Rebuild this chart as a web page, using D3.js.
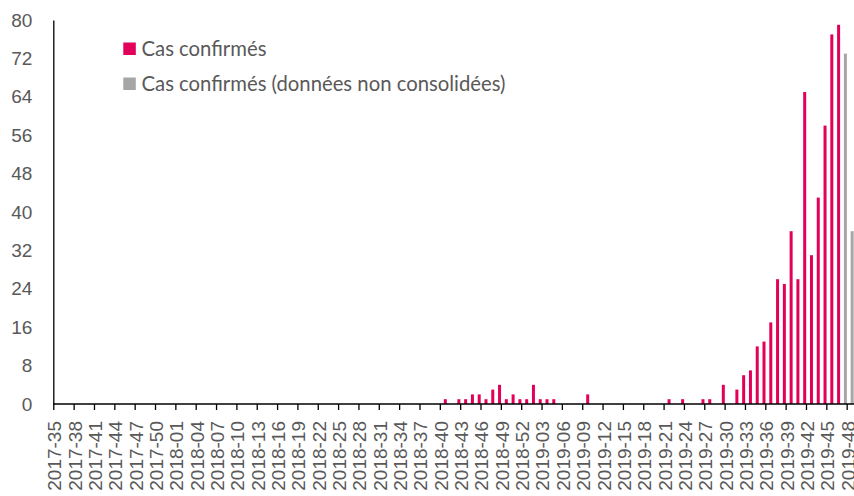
<!DOCTYPE html>
<html>
<head>
<meta charset="utf-8">
<script src="https://cdnjs.cloudflare.com/ajax/libs/d3/7.8.5/d3.min.js"></script>
<style>
  body { margin: 0; background: #fff; }
  svg { display: block; font-family: Lato, "Open Sans", sans-serif; }
</style>
</head>
<body>
<div class="chart"></div>
<script>
// weeks shown on the x axis (ISO week numbers)
const years = [2017, 2018, 2019];
const firstWeek = [35, 1, 1];
const lastWeek = [52, 52, 49];

// Cas confirmés, one value per week
const confirmed2017 = [0, 0, 0, 0, 0, 0, 0, 0, 0, 0, 0, 0, 0, 0, 0, 0, 0, 0];
const confirmed2018 = [
  0, 0, 0, 0, 0, 0, 0, 0, 0, 0,
  0, 0, 0, 0, 0, 0, 0, 0, 0, 0,
  0, 0, 0, 0, 0, 0, 0, 0, 0, 0,
  0, 0, 0, 0, 0, 0, 0, 0, 0, 0,
  1, 0, 1, 1, 2, 2, 1, 3, 4, 1,
  2, 1
];
const confirmed2019 = [
  1, 4, 1, 1, 1, 0, 0, 0, 0, 2,
  0, 0, 0, 0, 0, 0, 0, 0, 0, 0,
  0, 1, 0, 1, 0, 0, 1, 1, 0, 4,
  0, 3, 6, 7, 12, 13, 17, 26, 25, 36,
  26, 65, 31, 43, 58, 77, 79, 0, 0
];

// Cas confirmés (données non consolidées): only the last two weeks of 2019
const unconsolidatedWeeks = ["2019-48", "2019-49"];
const unconsolidatedValues = [73, 36];

const yTicks = [0, 8, 16, 24, 32, 40, 48, 56, 64, 72, 80];
const legendLabels = ["Cas confirmés", "Cas confirmés (données non consolidées)"];
const colors = ["#e2005a", "#a6a6a6"];

// build the category list and the data rows
const weeks = [];
years.forEach((y, k) => {
  for (let w = firstWeek[k]; w <= lastWeek[k]; w++) {
    weeks.push(`${y}-${String(w).padStart(2, "0")}`);
  }
});
const confirmed = confirmed2017.concat(confirmed2018, confirmed2019);
const rows = weeks.map((wk, i) => {
  const j = unconsolidatedWeeks.indexOf(wk);
  return { week: wk, confirmed: confirmed[i], pending: j >= 0 ? unconsolidatedValues[j] : 0 };
});
const labelWeeks = weeks.filter((d, i) => i % 3 === 0);

const width = 854, height = 496;
const svg = d3.select(".chart").append("svg")
  .attr("width", width)
  .attr("height", height);

const x = d3.scalePoint()
  .domain(weeks)
  .range([53.3, 53.3 + 6.781 * (weeks.length - 1)]);

const y = d3.scaleLinear()
  .domain([0, 80])
  .range([404, 20]);

const barW = 3;
const barShift = -1.3;

// bars
svg.append("g").selectAll("rect.conf")
  .data(rows.filter(d => d.confirmed > 0))
  .join("rect")
  .attr("class", "conf")
  .attr("x", d => x(d.week) + barShift - barW / 2)
  .attr("y", d => y(d.confirmed))
  .attr("width", barW)
  .attr("height", d => y(0) - y(d.confirmed))
  .attr("fill", colors[0]);

svg.append("g").selectAll("rect.pend")
  .data(rows.filter(d => d.pending > 0))
  .join("rect")
  .attr("class", "pend")
  .attr("x", d => x(d.week) + barShift - barW / 2)
  .attr("y", d => y(d.pending))
  .attr("width", barW)
  .attr("height", d => y(0) - y(d.pending))
  .attr("fill", colors[1]);

// y axis
const yAxis = svg.append("g")
  .attr("transform", "translate(53.3,0)")
  .call(d3.axisLeft(y).tickValues(yTicks).tickSize(0).tickPadding(21).tickSizeOuter(0));
yAxis.select(".domain").attr("stroke", "#000").attr("stroke-width", 1.3);
yAxis.selectAll("text")
  .attr("fill", "#595959")
  .style("font-size", "19px");

// x axis
const xAxis = svg.append("g")
  .attr("transform", "translate(0,404)")
  .call(d3.axisBottom(x).tickValues(labelWeeks).tickSize(6).tickSizeOuter(0));
xAxis.select(".domain")
  .attr("d", `M53.3,0H${width}`)
  .attr("stroke", "#000").attr("stroke-width", 1.3);
xAxis.selectAll(".tick line").attr("stroke", "#000").attr("stroke-width", 1.3);
xAxis.selectAll(".tick text")
  .attr("fill", "#595959")
  .style("font-size", "19px")
  .attr("text-anchor", "end")
  .attr("transform", "rotate(-90)")
  .attr("x", -17)
  .attr("y", 0.8)
  .attr("dy", "0.35em");

// legend
const legend = svg.append("g");
legendLabels.forEach((lab, k) => {
  const top = 42.5 + k * 35;
  legend.append("rect")
    .attr("x", 123.3)
    .attr("y", top)
    .attr("width", 12.5)
    .attr("height", 12.5)
    .attr("fill", colors[k]);
  legend.append("text")
    .attr("x", 141.5)
    .attr("y", top + 13.5)
    .attr("fill", "#595959")
    .style("font-size", "20.3px")
    .text(lab);
});
</script>
</body>
</html>
